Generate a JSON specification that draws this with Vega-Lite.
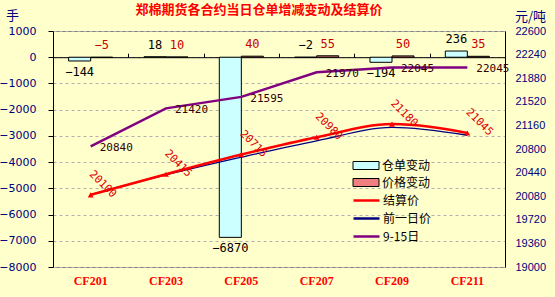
{
  "$schema": "https://vega.github.io/schema/vega-lite/v6.json",
  "width": 452,
  "height": 236,
  "autosize": {"type": "none"},
  "padding": {"left": 53, "top": 31, "right": 50, "bottom": 30},
  "background": "#FFFFCC",
  "config": {
    "view": {"stroke": "#808080", "strokeWidth": 1},
    "font": "DejaVu Sans"
  },
  "title": {
    "text": "郑棉期货各合约当日仓单增减变动及结算价",
    "color": "#FF0000",
    "font": "Noto Sans CJK SC",
    "fontSize": 13,
    "fontWeight": "bold",
    "anchor": "middle",
    "dx": -20,
    "baseline": "middle",
    "offset": -13.5
  },
  "datasets": {
    "bars": [
      {"c": "CF201", "s": "仓单变动", "v": -144},
      {"c": "CF203", "s": "仓单变动", "v": 18},
      {"c": "CF205", "s": "仓单变动", "v": -6870},
      {"c": "CF207", "s": "仓单变动", "v": -2},
      {"c": "CF209", "s": "仓单变动", "v": -194},
      {"c": "CF211", "s": "仓单变动", "v": 236},
      {"c": "CF201", "s": "价格变动", "v": -5},
      {"c": "CF203", "s": "价格变动", "v": 10},
      {"c": "CF205", "s": "价格变动", "v": 40},
      {"c": "CF207", "s": "价格变动", "v": 55},
      {"c": "CF209", "s": "价格变动", "v": 50},
      {"c": "CF211", "s": "价格变动", "v": 35}
    ],
    "lines": [
      {"c": "CF201", "s": "结算价", "v": 20100},
      {"c": "CF203", "s": "结算价", "v": 20415},
      {"c": "CF205", "s": "结算价", "v": 20715},
      {"c": "CF207", "s": "结算价", "v": 20980},
      {"c": "CF209", "s": "结算价", "v": 21180},
      {"c": "CF211", "s": "结算价", "v": 21045},
      {"c": "CF201", "s": "前一日价", "v": 20105},
      {"c": "CF203", "s": "前一日价", "v": 20405},
      {"c": "CF205", "s": "前一日价", "v": 20675},
      {"c": "CF207", "s": "前一日价", "v": 20925},
      {"c": "CF209", "s": "前一日价", "v": 21130},
      {"c": "CF211", "s": "前一日价", "v": 21010},
      {"c": "CF201", "s": "9-15日", "v": 20840},
      {"c": "CF203", "s": "9-15日", "v": 21420},
      {"c": "CF205", "s": "9-15日", "v": 21595},
      {"c": "CF207", "s": "9-15日", "v": 21970},
      {"c": "CF209", "s": "9-15日", "v": 22045},
      {"c": "CF211", "s": "9-15日", "v": 22045}
    ]
  },
  "layer": [
    {
      "data": {"name": "bars"},
      "mark": {"type": "bar", "stroke": "black", "strokeWidth": 1},
      "encoding": {
        "x": {
          "field": "c", "type": "nominal",
          "scale": {"paddingInner": 0, "paddingOuter": 0},
          "axis": {
            "orient": "bottom", "title": null, "domain": false, "ticks": false,
            "labelAngle": 0, "labelPadding": 8,
            "labelFont": "Liberation Serif", "labelFontSize": 12, "labelFontWeight": "bold",
            "labelColor": "#FF0000"
          }
        },
        "xOffset": {
          "field": "s", "type": "nominal",
          "scale": {"domain": ["仓单变动", "价格变动"], "paddingInner": 0, "paddingOuter": 0.71}
        },
        "y": {
          "field": "v", "type": "quantitative",
          "scale": {"domain": [-8000, 1000], "nice": false, "zero": false},
          "axis": {
            "orient": "left",
            "values": [-8000, -7000, -6000, -5000, -4000, -3000, -2000, -1000, 0, 1000],
            "format": "d",
            "grid": true, "gridDash": [3, 3], "gridColor": "#B0B0B0",
            "domainColor": "black", "tickColor": "black", "tickSize": 5,
            "labelColor": "#000080", "labelFont": "DejaVu Sans", "labelFontSize": 11,
            "labelPadding": 12,
            "title": "手", "titleAngle": 0, "titleX": -41, "titleY": -16,
            "titleAlign": "center", "titleBaseline": "middle",
            "titleColor": "#000080", "titleFont": "Noto Sans CJK SC",
            "titleFontSize": 13, "titleFontWeight": "normal"
          }
        },
        "fill": {
          "field": "s", "type": "nominal",
          "scale": {"domain": ["仓单变动", "价格变动"], "range": ["#CCFFFF", "#F08080"]},
          "legend": {
            "orient": "none", "legendX": 299, "legendY": 128.5,
            "title": null, "padding": 0,
            "symbolType": "M-1,-0.8H4.2V0.8H-1Z", "symbolSize": 100,
            "symbolStrokeColor": "black", "symbolStrokeWidth": 1,
            "labelOffset": 18, "labelFont": "Noto Sans CJK SC", "labelFontSize": 12,
            "labelColor": "black", "rowPadding": 5
          }
        }
      }
    },
    {
      "data": {"name": "bars"},
      "transform": [{"filter": "datum.s === '仓单变动'"}],
      "mark": {"type": "rule", "stroke": "black", "strokeWidth": 1, "opacity": 0},
      "encoding": {
        "x": {
          "field": "c", "type": "nominal",
          "axis": {
            "orient": "top", "offset": -26.2, "title": null, "labels": false,
            "domainColor": "black", "tickColor": "black", "tickSize": 4,
            "tickBand": "extent", "grid": false
          }
        }
      }
    },
    {
      "data": {"name": "bars"},
      "transform": [{"filter": "datum.v > -50"}],
      "mark": {"type": "text", "baseline": "bottom", "dy": -5, "font": "DejaVu Sans Mono", "fontSize": 12},
      "encoding": {
        "x": {"field": "c", "type": "nominal", "axis": null},
        "xOffset": {"field": "s", "type": "nominal"},
        "y": {"field": "v", "type": "quantitative", "scale": {"domain": [-8000, 1000], "nice": false, "zero": false}, "axis": null},
        "text": {"field": "v", "type": "quantitative", "format": "d"},
        "color": {"condition": {"test": "datum.s === '价格变动'", "value": "#CC0000"}, "value": "black"}
      }
    },
    {
      "data": {"name": "bars"},
      "transform": [{"filter": "datum.v <= -50"}],
      "mark": {"type": "text", "baseline": "top", "dy": 6, "font": "DejaVu Sans Mono", "fontSize": 12},
      "encoding": {
        "x": {"field": "c", "type": "nominal", "axis": null},
        "xOffset": {"field": "s", "type": "nominal"},
        "y": {"field": "v", "type": "quantitative", "scale": {"domain": [-8000, 1000], "nice": false, "zero": false}, "axis": null},
        "text": {"field": "v", "type": "quantitative", "format": "d"},
        "color": {"value": "black"}
      }
    },
    {
      "data": {"name": "lines"},
      "transform": [{"filter": "datum.s === '9-15日'"}],
      "mark": {"type": "line", "strokeWidth": 2.5},
      "encoding": {
        "x": {"field": "c", "type": "nominal", "axis": null},
        "y": {
          "field": "v", "type": "quantitative",
          "scale": {"domain": [19000, 22600], "nice": false, "zero": false},
          "axis": {
            "orient": "right",
            "values": [19000, 19360, 19720, 20080, 20440, 20800, 21160, 21520, 21880, 22240, 22600],
            "format": "d", "grid": false,
            "domainColor": "black", "ticks": false,
            "labelColor": "#000080", "labelFont": "Liberation Sans", "labelFontSize": 11,
            "labelPadding": 10,
            "title": "元/吨", "titleAngle": 0, "titleX": 25, "titleY": -15,
            "titleAlign": "center", "titleBaseline": "middle",
            "titleColor": "#000080", "titleFont": "Noto Sans CJK SC",
            "titleFontSize": 13, "titleFontWeight": "normal"
          }
        },
        "stroke": {
          "field": "s", "type": "nominal",
          "scale": {"domain": ["结算价", "前一日价", "9-15日"], "range": ["#FF0000", "#000080", "#800080"]},
          "legend": {
            "orient": "none", "legendX": 299, "legendY": 163,
            "title": null, "padding": 0,
            "symbolType": "M-1,0H4.2", "symbolSize": 100, "symbolStrokeWidth": 2.5,
            "labelOffset": 18, "labelFont": "Noto Sans CJK SC", "labelFontSize": 12,
            "labelColor": "black", "rowPadding": 5
          }
        }
      }
    },
    {
      "data": {"name": "lines"},
      "transform": [{"filter": "datum.s === '前一日价'"}],
      "mark": {"type": "line", "strokeWidth": 1.3, "interpolate": "monotone"},
      "encoding": {
        "x": {"field": "c", "type": "nominal", "axis": null},
        "y": {"field": "v", "type": "quantitative", "scale": {"domain": [19000, 22600], "nice": false, "zero": false}, "axis": null},
        "stroke": {"field": "s", "type": "nominal"}
      }
    },
    {
      "data": {"name": "lines"},
      "transform": [{"filter": "datum.s === '结算价'"}],
      "mark": {"type": "line", "strokeWidth": 2.5, "interpolate": "monotone"},
      "encoding": {
        "x": {"field": "c", "type": "nominal", "axis": null},
        "y": {"field": "v", "type": "quantitative", "scale": {"domain": [19000, 22600], "nice": false, "zero": false}, "axis": null},
        "stroke": {"field": "s", "type": "nominal"}
      }
    },
    {
      "data": {"name": "lines"},
      "transform": [{"filter": "datum.s === '结算价'"}],
      "mark": {"type": "point", "shape": "triangle-up", "filled": true, "size": 35, "color": "#FF0000", "opacity": 1},
      "encoding": {
        "x": {"field": "c", "type": "nominal", "axis": null},
        "y": {"field": "v", "type": "quantitative", "scale": {"domain": [19000, 22600], "nice": false, "zero": false}, "axis": null}
      }
    },
    {
      "data": {"name": "lines"},
      "transform": [{"filter": "datum.s === '9-15日'"}],
      "mark": {"type": "text", "align": "left", "baseline": "middle", "dx": 9, "dy": 2, "font": "DejaVu Sans Mono", "fontSize": 11, "color": "#330000"},
      "encoding": {
        "x": {"field": "c", "type": "nominal", "axis": null},
        "y": {"field": "v", "type": "quantitative", "scale": {"domain": [19000, 22600], "nice": false, "zero": false}, "axis": null},
        "text": {"field": "v", "type": "quantitative", "format": "d"}
      }
    },
    {
      "data": {"name": "lines"},
      "transform": [{"filter": "datum.s === '结算价'"}],
      "mark": {"type": "text", "align": "center", "baseline": "middle", "angle": 45, "dx": 1, "dy": -16, "font": "DejaVu Sans Mono", "fontSize": 11, "color": "#DD0000"},
      "encoding": {
        "x": {"field": "c", "type": "nominal", "axis": null},
        "y": {"field": "v", "type": "quantitative", "scale": {"domain": [19000, 22600], "nice": false, "zero": false}, "axis": null},
        "text": {"field": "v", "type": "quantitative", "format": "d"}
      }
    }
  ],
  "resolve": {"scale": {"y": "independent"}}
}
